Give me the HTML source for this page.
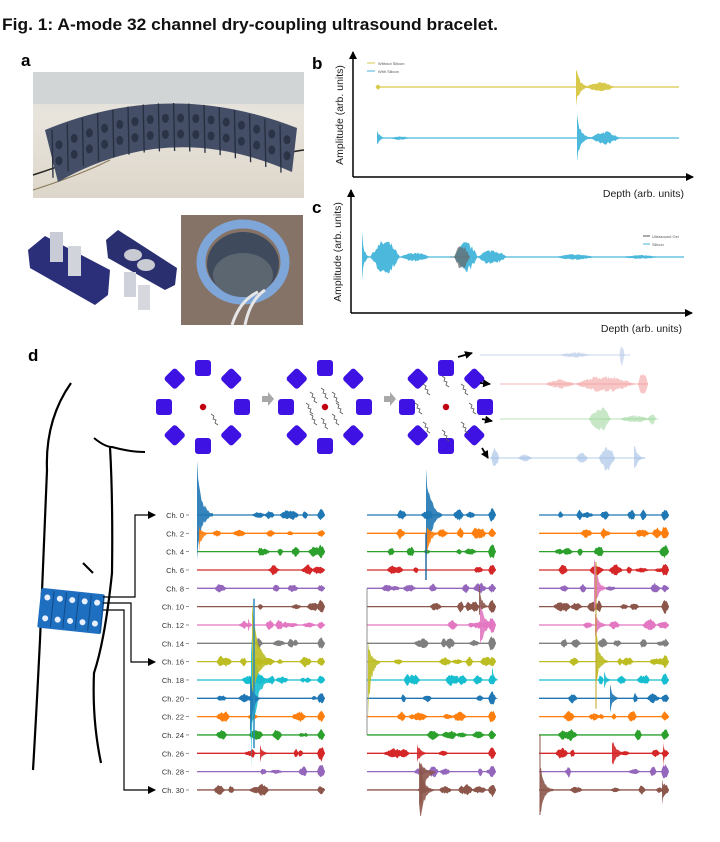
<!DOCTYPE html>
<html><head><meta charset="utf-8"><style>
html,body{margin:0;padding:0;background:#fff;}
svg{display:block;font-family:"Liberation Sans",sans-serif;}
</style></head><body>
<svg id="s" width="720" height="842" viewBox="0 0 720 842" xmlns="http://www.w3.org/2000/svg">
<defs>
<linearGradient id="bg1" x1="0" y1="0" x2="0" y2="1"><stop offset="0" stop-color="#dcdcd8"/><stop offset="0.35" stop-color="#e8e4dc"/><stop offset="1" stop-color="#ddd6ca"/></linearGradient>
<marker id="ar" markerWidth="8" markerHeight="8" refX="7" refY="4" orient="auto" markerUnits="userSpaceOnUse"><path d="M0,0 L8,4 L0,8 z" fill="#000"/></marker>
</defs>
<text x="2" y="30" font-size="17" font-weight="bold" fill="#111" textLength="496" lengthAdjust="spacingAndGlyphs">Fig. 1: A-mode 32 channel dry-coupling ultrasound bracelet.</text>
<text x="21" y="66" font-size="17" font-weight="bold">a</text>
<text x="312" y="69" font-size="17" font-weight="bold">b</text>
<text x="312" y="213" font-size="17" font-weight="bold">c</text>
<text x="28" y="361" font-size="17" font-weight="bold">d</text>
<!-- photo a -->
<rect x="33" y="72" width="271" height="126" fill="url(#bg1)"/>
<rect x="33" y="72" width="271" height="32" fill="#d2d5d6"/>
<path d="M33,175 Q80,160 120,140" stroke="#222" stroke-width="1.5" fill="none"/>
<path d="M33,190 Q80,175 110,160" stroke="#8a7a5a" stroke-width="1" fill="none"/>
<path d="M304,150 Q285,152 275,160" stroke="#222" stroke-width="1.5" fill="none"/>
<path d="M45,130 Q170,78 297,128 L292,172 Q170,118 58,182 Z" fill="#444e66"/>
<g id="segs"></g>
<!-- 3D parts -->
<path d="M28,250 L45,236 L110,270 L108,295 L95,305 L30,268 Z" fill="#2b2f7a"/>
<rect x="50" y="232" width="13" height="30" fill="#c9ccd6"/><rect x="68" y="246" width="13" height="30" fill="#d2d4dc"/>
<path d="M106,240 L118,230 L177,268 L175,285 L165,290 L108,258 Z" fill="#2a2f70"/>
<ellipse cx="133" cy="255" rx="9" ry="6" fill="#c8cbd2"/><ellipse cx="146" cy="265" rx="9" ry="6" fill="#c8cbd2"/>
<rect x="124" y="272" width="12" height="25" fill="#cfd2da"/><rect x="138" y="285" width="12" height="25" fill="#d6d8de"/>
<!-- photo ring -->
<rect x="181" y="215" width="122" height="110" fill="#7d6a60"/>
<rect x="181" y="215" width="122" height="110" fill="#8f7b70" opacity="0.5"/>
<ellipse cx="243" cy="262" rx="42" ry="38" fill="none" stroke="#7fa6d8" stroke-width="9"/>
<ellipse cx="243" cy="264" rx="36" ry="32" fill="#3f4a5c"/>
<ellipse cx="243" cy="275" rx="30" ry="22" fill="#5c6670"/>
<path d="M232,325 Q240,300 258,292 M245,325 Q250,300 265,290" stroke="#e6e6e6" stroke-width="3" fill="none"/>
<!-- b axes -->
<line x1="353" y1="177" x2="353" y2="52" stroke="#000" stroke-width="1.5" marker-end="url(#ar)"/>
<line x1="353" y1="177" x2="693" y2="177" stroke="#000" stroke-width="1.5" marker-end="url(#ar)"/>
<text transform="translate(343,115) rotate(-90)" font-size="10.5" text-anchor="middle" fill="#222">Amplitude (arb. units)</text>
<text x="684" y="197" font-size="10.5" text-anchor="end" fill="#222">Depth (arb. units)</text>
<line x1="367" y1="63" x2="375" y2="63" stroke="#d9c94a"/><text x="378" y="65" font-size="4" fill="#555">Without Silicon</text>
<line x1="367" y1="71" x2="375" y2="71" stroke="#45b6d6"/><text x="378" y="73" font-size="4" fill="#555">With Silicon</text>
<!-- c axes -->
<line x1="351" y1="313" x2="351" y2="190" stroke="#000" stroke-width="1.5" marker-end="url(#ar)"/>
<line x1="351" y1="313" x2="692" y2="313" stroke="#000" stroke-width="1.5" marker-end="url(#ar)"/>
<text transform="translate(341,252) rotate(-90)" font-size="10.5" text-anchor="middle" fill="#222">Amplitude (arb. units)</text>
<text x="682" y="332" font-size="10.5" text-anchor="end" fill="#222">Depth (arb. units)</text>
<line x1="643" y1="236" x2="650" y2="236" stroke="#555"/><text x="652" y="238" font-size="4" fill="#555">Ultrasound Gel</text>
<line x1="643" y1="244" x2="650" y2="244" stroke="#45b6d6"/><text x="652" y="246" font-size="4" fill="#555">Silicon</text>
<g id="plots"></g>
<!-- body -->
<path d="M71,383 Q45,420 47,470 Q43,560 40,640 Q36,720 33,770" stroke="#000" stroke-width="2.2" fill="none"/>
<path d="M94,438 Q105,447 112,447 Q130,452 145,452" stroke="#000" stroke-width="2" fill="none"/>
<path d="M110,447 Q113,500 112,573 Q105,640 94,673 Q92,720 101,763" stroke="#000" stroke-width="2.2" fill="none"/>
<line x1="83" y1="563" x2="93" y2="573" stroke="#000" stroke-width="2"/>
<g transform="rotate(6 71 612)"><rect x="39" y="591" width="64" height="40" fill="#1f6fc0" rx="2"/>
<g id="dots"></g></g>
<!-- connectors -->
<polyline points="103,597 135,597 135,515 155,515" fill="none" stroke="#000" stroke-width="1.2" marker-end="url(#ar)"/>
<polyline points="103,603 131,603 131,662 155,662" fill="none" stroke="#000" stroke-width="1.2" marker-end="url(#ar)"/>
<polyline points="103,610 124,610 124,790 155,790" fill="none" stroke="#000" stroke-width="1.2" marker-end="url(#ar)"/>
<g id="oct"></g>
<g id="ch"></g>
</svg>
<script>
var NS="http://www.w3.org/2000/svg";
function el(p,t,a,txt){var e=document.createElementNS(NS,t);for(var k in a)e.setAttribute(k,a[k]);if(txt)e.textContent=txt;document.getElementById(p).appendChild(e);return e;}
var seed=7;function rnd(){seed=(seed*16807)%2147483647;return seed/2147483647;}
// photo segments
for(var i=0;i<16;i++){var x=52+i*15.2;var t=(x-172)/125;var yt=101+29*t*t,yb=yt+50;
 el('segs','line',{x1:x,y1:yt+2,x2:x+1,y2:yb,stroke:'#262e40','stroke-width':1.3});
 el('segs','ellipse',{cx:x+7,cy:yt+17,rx:3.5,ry:4.5,fill:'#2b3346'});el('segs','ellipse',{cx:x+7,cy:yt+33,rx:3.5,ry:4.5,fill:'#2b3346'});}
// bracelet dots
for(var i=0;i<5;i++){el('dots','circle',{cx:46+i*12.5,cy:600,r:3,fill:'#e8f0ff'});el('dots','circle',{cx:46+i*12.5,cy:621,r:3,fill:'#e8f0ff'});el('dots','line',{x1:52+i*12.5,y1:593,x2:52+i*12.5,y2:629,stroke:'#0d4a8a','stroke-width':1});}
function wave(par,x0,x1,y,bursts,col,op,sw){
 el(par,'line',{x1:x0,y1:y,x2:x1,y2:y,stroke:col,'stroke-width':sw||1.2,opacity:op||1});
 bursts.forEach(function(b){var pts=[],bot=[];var n=Math.max(6,Math.round(b[1]/1.2));
  for(var k=0;k<=n;k++){var xx=b[0]-b[1]/2+b[1]*k/n;var u=k/n;var env=b[3]?Math.exp(-u*4):Math.sin(Math.PI*u);var hh=b[2]*env*(0.55+0.45*rnd());
   var hd=(b[4]!==undefined?b[4]:b[2])*env*(0.55+0.45*rnd());pts.push(xx.toFixed(1)+','+(y-hh).toFixed(1));bot.unshift(xx.toFixed(1)+','+(y+hd).toFixed(1));}
  el(par,'polygon',{points:pts.concat(bot).join(' '),fill:col,opacity:op||1});});}
// b, c
wave('plots',376,679,87,[[378,5,3],[583,14,24,1,22],[600,30,5]],'#d9c94a',1,1.2);
wave('plots',378,679,138,[[382,10,10,1,8],[400,20,2],[585,16,24,1,24],[605,30,7]],'#4cb9dc',1,1.2);
wave('plots',363,684,257,[[366,8,30,1,26],[385,30,18],[415,30,5],[466,24,16],[492,30,8],[575,40,3],[640,40,2]],'#4cb9dc',1,1.2);
wave('plots',450,470,257,[[462,16,14]],'#666',0.7,0.8);
// octagons
var cx=[203,325,446];var sq='#3d12e2';
cx.forEach(function(c,j){var cy=407;for(var a=0;a<8;a++){var an=a*Math.PI/4;var r=(a%2)?40:39;var x=c+r*Math.sin(an),yy=cy-r*Math.cos(an);
 el('oct','rect',{x:x-8,y:yy-8,width:16,height:16,rx:3,fill:sq,transform:'rotate('+(a*45)+' '+x+' '+yy+')'});}
 el('oct','circle',{cx:c,cy:cy,r:3.2,fill:'#c00010'});
 var sc=j==0?[[215,418]]:(j==1?[[c,cy-15],[c+11,cy-11],[c+15,cy],[c+11,cy+11],[c,cy+15],[c-11,cy+11],[c-15,cy],[c-11,cy-11]]:[[c,cy-27],[c+19,cy-19],[c+27,cy],[c+19,cy+19],[c,cy+27],[c-19,cy+19],[c-27,cy],[c-19,cy-19]]);
 sc.forEach(function(p){el('oct','path',{d:'M'+(p[0]-4)+','+(p[1]-4)+' l3,2 l-1,3 l3,1 l-1,3 l3,2',stroke:'#555','stroke-width':0.8,fill:'none'});});});
el('oct','path',{d:'M262,396 h6 v-4 l6,7 l-6,7 v-4 h-6 z',fill:'#a8a8a8'});
el('oct','path',{d:'M384,396 h6 v-4 l6,7 l-6,7 v-4 h-6 z',fill:'#a8a8a8'});
[[458,357,472,353],[480,383,490,384],[482,419,492,421],[482,448,488,458]].forEach(function(a){el('oct','line',{x1:a[0],y1:a[1],x2:a[2],y2:a[3],stroke:'#000','stroke-width':1.8,'marker-end':'url(#ar)'});});
wave('oct',480,630,355,[[575,30,3],[622,5,12]],'#b8c8e8',0.6);
wave('oct',500,648,384,[[560,30,5],[605,60,9],[643,10,14]],'#f09090',0.5);
wave('oct',500,658,419,[[600,22,14],[635,30,4],[652,8,6]],'#90d090',0.5);
wave('oct',490,645,458,[[495,8,12],[525,14,4],[582,12,6],[607,16,14],[640,12,18,1]],'#9cbce4',0.6);
// channels
var cols=['#1f77b4','#ff7f0e','#2ca02c','#d62728','#9467bd','#8c564b','#e377c2','#7f7f7f','#bcbd22','#17becf'];
var X=[[197,325],[367,496],[539,669]];
for(var i=0;i<16;i++){var y=515+i*18.33;el('ch','text',{x:184,y:y+3,'font-size':7.5,'text-anchor':'end',fill:'#333'},'Ch. '+(i*2));
 el('ch','line',{x1:186,y1:y,x2:189,y2:y,stroke:'#666','stroke-width':0.7});
 for(var c=0;c<3;c++){var a=X[c][0],b=X[c][1],bs=[];var n=4+Math.floor(rnd()*4);
  for(var k=0;k<n;k++)bs.push([a+20+rnd()*(b-a-26),5+rnd()*10,2.5+rnd()*4]);bs.push([b-4,8,4+rnd()*5]);
  wave('ch',a,b,y,bs,cols[i%10],1,1.3);}}
function sp(x,y,w,up,dn,col,op){var pts=[],bot=[];for(var k=0;k<=14;k++){var u=k/14;var xx=x+w*u;var e=Math.exp(-u*3.5)*(0.6+0.4*rnd());pts.push(xx+','+(y-up*e));bot.unshift(xx+','+(y+dn*e));}
 el('ch','polygon',{points:pts.concat(bot).join(' '),fill:col,opacity:op||0.9});}
function Y(i){return 515+i*18.33;}
sp(197,Y(0),16,55,45,cols[0]);sp(199,Y(1),10,8,20,cols[1]);
sp(251,Y(9),18,45,90,cols[9]);sp(252,Y(8),22,60,40,cols[8]);sp(250,Y(10),10,25,45,cols[0]);sp(248,Y(6),6,8,8,cols[6]);
el('ch','line',{x1:254,y1:Y(5)-8,x2:254,y2:Y(13)-5,stroke:'#2a8ac0','stroke-width':1.5});
sp(260,Y(13),10,10,10,cols[3]);sp(262,Y(15),8,8,8,cols[5]);
sp(426,Y(0),16,55,62,cols[0]);sp(427,Y(1),12,8,25,cols[1]);
el('ch','line',{x1:426,y1:Y(1),x2:426,y2:Y(3)+10,stroke:'#2a6aa0','stroke-width':1.5});
sp(479,Y(5),10,25,10,cols[5]);sp(480,Y(6),14,30,30,cols[6]);
sp(368,Y(8),12,22,60,cols[8]);
el('ch','polyline',{points:'367,'+Y(4)+' 367,'+Y(12),stroke:'#777','stroke-width':0.8,fill:'none'});
sp(417,Y(13),12,12,12,cols[3]);sp(419,Y(14),16,15,60,cols[5]);sp(420,Y(15),14,30,40,cols[5]);
sp(492,Y(9),6,20,8,cols[9]);sp(492,Y(10),6,8,8,cols[0]);
sp(594,Y(4),12,40,30,cols[6]);sp(596,Y(8),12,35,25,cols[8]);sp(595,Y(6),14,15,15,cols[6]);
el('ch','line',{x1:596,y1:Y(3)-8,x2:596,y2:Y(11)-8,stroke:'#c0a020','stroke-width':1});
sp(610,Y(10),10,15,15,cols[0]);sp(604,Y(9),8,10,10,cols[9]);
sp(612,Y(13),16,15,15,cols[3]);sp(540,Y(15),14,30,30,cols[5]);
el('ch','line',{x1:540,y1:Y(12),x2:540,y2:Y(15)+25,stroke:'#8c564b','stroke-width':1});
sp(663,Y(13),6,12,15,cols[3]);sp(662,Y(15),7,15,20,cols[5]);
</script>
</body></html>
